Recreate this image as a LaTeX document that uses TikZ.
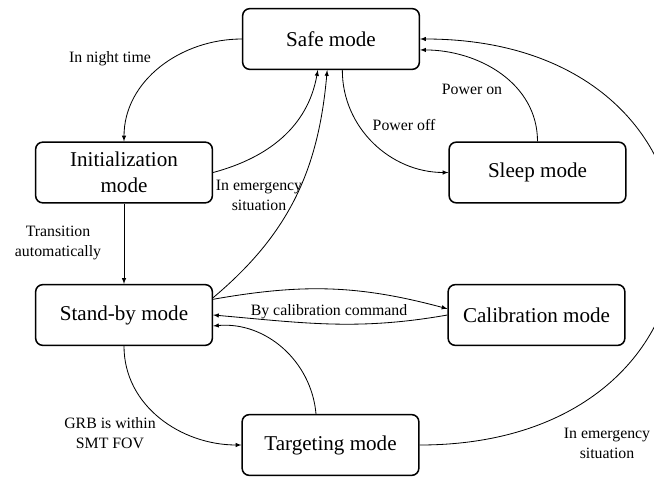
\documentclass[tikz,border=0pt]{standalone}
\usepackage{fontspec}
\setmainfont{Liberation Serif}
\begin{document}
\begin{tikzpicture}[x=0.03cm, y=-0.03cm,
	mode/.style={draw=black, text=black, shape=rectangle, rounded corners=6pt, line width=1.3pt, minimum width=5.3cm, minimum height=1.82cm, inner sep=0pt, align=center, font=\fontsize{18}{22}\selectfont},
	lab/.style={text=black, inner sep=1pt, align=center, font=\fontsize{13.5}{17}\selectfont},
	edge/.style={draw=black, line width=0.7pt, -latex}]
	\useasboundingbox (0,0) rectangle (654,479);

	\node[mode] (m_safe) at (331,39) {Safe mode};
	\node[mode] (m_init) at (124,172.5) {Initialization\\mode};
	\node[mode] (m_sleep) at (537.5,172.5) {Sleep mode};
	\node[mode] (m_stb) at (124,315) {Stand-by mode};
	\node[mode] (m_calib) at (536.5,315) {Calibration mode};
	\node[mode] (m_tgt) at (330.5,445) {Targeting mode};

	\node[lab] (l_night) at (110,59) {In night time};
	\node[lab] (l_pon) at (472,89) {Power on};
	\node[lab] (l_poff) at (404,125) {Power off};
	\node[lab] (l_emg_a) at (259,195) {In emergency\\situation};
	\node[lab] (l_auto) at (58,243) {Transition\\automatically};
	\node[lab] (l_calcmd) at (329,312) {By calibration command};
	\node[lab] (l_grb) at (110,433) {GRB is within\\SMT FOV};
	\node[lab] (l_emg_b) at (607,443) {In emergency\\situation};

	\draw[edge] (m_safe.west) to[out=180, in=90] (m_init.north);
	\draw[edge] (m_init.east) to[out=15, in=-100] (m_safe.-113);
	\draw[edge] (m_stb.11) to[out=40, in=-95] (m_safe.-97);
	\draw[edge] (m_safe.-70) to[out=-90, in=180] (m_sleep.west);
	\draw[edge] (m_sleep.north) to[out=90, in=0] (m_safe.-7);
	\draw[edge] (m_init.south) -- (m_stb.north);
	\draw[edge] (m_stb.10) to[out=10, in=165] (m_calib.176);
	\draw[edge] (m_calib.west) to[out=190, in=-5] (m_stb.east);
	\draw[edge] (m_tgt.115) to[out=95, in=5] (m_stb.-7);
	\draw[edge] (m_stb.south) to[out=-90, in=180] (m_tgt.west);
	\begin{scope}
		\clip (0,0) rectangle (654,479);
		\draw[edge] (m_tgt.east) to[out=0, in=0, looseness=2.15] (m_safe.east);
	\end{scope}
\end{tikzpicture}
\end{document}
